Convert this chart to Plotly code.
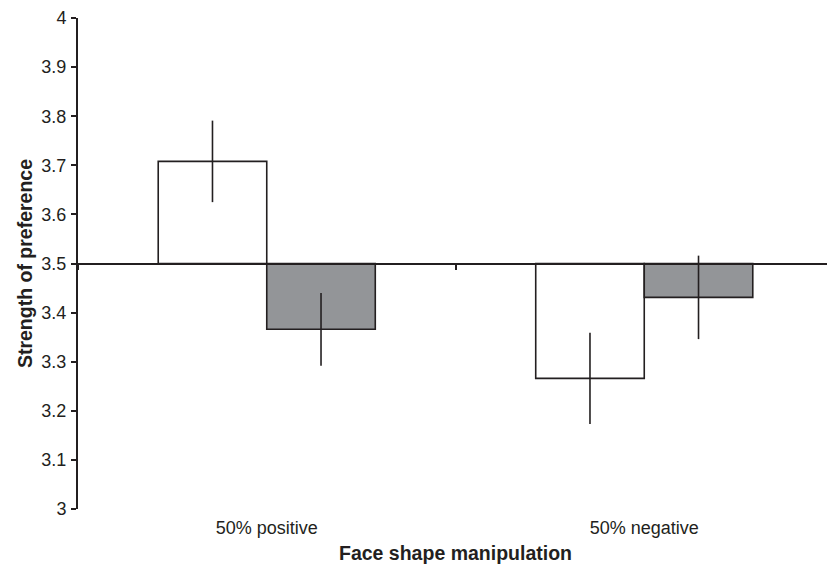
import plotly.graph_objects as go

categories = ["50% positive", "50% negative"]
white_values = [3.708, 3.266]
white_errors = [0.083, 0.093]
grey_values = [3.366, 3.431]
grey_errors = [0.074, 0.085]
baseline = 3.5
y_ticks = [3.0, 3.1, 3.2, 3.3, 3.4, 3.5, 3.6, 3.7, 3.8, 3.9, 4.0]
y_tick_labels = ["3", "3.1", "3.2", "3.3", "3.4", "3.5", "3.6", "3.7", "3.8", "3.9", "4"]

ink = "#231f20"
xpos = list(range(len(categories)))

fig = go.Figure()
fig.add_trace(go.Bar(
    x=xpos, y=[v - baseline for v in white_values], base=baseline,
    marker=dict(color="white", line=dict(color=ink, width=1.6)),
    error_y=dict(type="data", array=white_errors, width=0, thickness=1.6, color=ink),
    showlegend=False,
))
fig.add_trace(go.Bar(
    x=xpos, y=[v - baseline for v in grey_values], base=baseline,
    marker=dict(color="#939598", line=dict(color=ink, width=1.6)),
    error_y=dict(type="data", array=grey_errors, width=0, thickness=1.6, color=ink),
    showlegend=False,
))
# invisible trace to activate the crossing axis at 3.5
fig.add_trace(go.Scatter(x=[xpos[0]], y=[baseline], xaxis="x2", mode="markers",
                         marker=dict(opacity=0), showlegend=False, hoverinfo="skip"))

font = dict(family="Liberation Sans, Arial, sans-serif", color=ink)
# the page body adds an 8px margin, so the figure is sized to fit the window after it
fig.update_layout(
    width=827, height=557,
    margin=dict(l=70, r=2, t=10, b=56),
    paper_bgcolor="white", plot_bgcolor="white",
    barmode="group", bargap=0.425, bargroupgap=0,
    font=dict(family="Liberation Sans, Arial, sans-serif", size=18, color=ink),
    xaxis=dict(
        range=[-0.5, 1.5], tickvals=xpos, ticktext=categories,
        showline=False, showgrid=False, zeroline=False, ticks="",
        automargin=False, ticklabelstandoff=6,
        tickfont=dict(size=18, **font),
        title=dict(text="<b>Face shape manipulation</b>", font=dict(size=19.5, **font), standoff=9),
    ),
    xaxis2=dict(
        overlaying="x", anchor="free", position=0.5, side="bottom",
        range=[-0.5, 1.5], tickvals=[-0.5, 0.5, 1.5], showticklabels=False,
        showline=True, linecolor=ink, linewidth=2, ticks="outside", ticklen=5,
        tickcolor=ink, tickwidth=1.5, showgrid=False, zeroline=False, automargin=False,
    ),
    yaxis=dict(
        range=[3, 4], tickvals=y_ticks, ticktext=y_tick_labels,
        showline=True, linecolor=ink, linewidth=2, ticks="outside", ticklen=5,
        tickcolor=ink, tickwidth=1.5, showgrid=False, zeroline=False,
        automargin=False, ticklabelstandoff=1,
        tickfont=dict(size=18, **font),
        title=dict(text="<b>Strength of preference</b>", font=dict(size=19.5, **font), standoff=4),
    ),
)

fig.write_html("out.html")
